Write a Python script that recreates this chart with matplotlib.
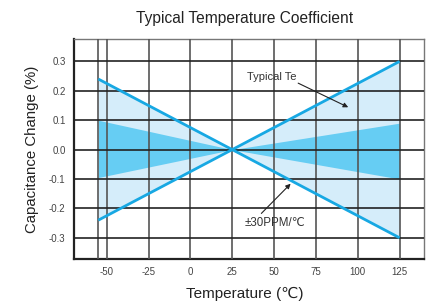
import matplotlib
matplotlib.use("Agg")
import matplotlib.pyplot as plt
import numpy as np

plt.rcParams['font.family'] = ['Liberation Sans', 'DejaVu Sans']

temps = [-55, 125]
ppm_upper = [0.24, 0.30]
ppm_lower = [-0.24, -0.30]
typ_upper = [0.10, 0.09]
typ_lower = [-0.095, -0.10]
ref_temp = 25
xticks = [-50, -25, 0, 25, 50, 75, 100, 125]
xgrid = [-55, -50, -25, 0, 25, 50, 75, 100, 125]
yticks = [-0.3, -0.2, -0.1, 0.0, 0.1, 0.2, 0.3]

fig = plt.figure(figsize=(4.39, 3.05), dpi=100)
ax = fig.add_axes([0.1686, 0.1508, 0.797, 0.7212])

light = '#d5edfa'
dark = '#66cdf3'
line_c = '#17a8e3'

x3 = [temps[0], ref_temp, temps[1]]
def tri(a, b):
    return [a, 0.0, b]

ax.fill_between(x3, tri(ppm_upper[0], ppm_upper[1]), tri(ppm_lower[0], ppm_lower[1]), color=light, lw=0, zorder=1)
ax.fill_between(x3, tri(typ_upper[0], typ_upper[1]), tri(typ_lower[0], typ_lower[1]), color=dark, lw=0, zorder=2)

for x in xgrid:
    ax.axvline(x, color='#555555', lw=1.2, zorder=3)
for y in yticks:
    ax.axhline(y, color='#222222', lw=1.2, zorder=3)

ax.plot([temps[0], temps[1]], [ppm_upper[0], ppm_lower[1]], color=line_c, lw=2.0, zorder=4, solid_capstyle='butt')
ax.plot([temps[0], temps[1]], [ppm_lower[0], ppm_upper[1]], color=line_c, lw=2.0, zorder=4, solid_capstyle='butt')

ax.set_xlim(-69.5, 139.5)
ax.set_ylim(-0.372, 0.376)
ax.set_xticks(xticks)
ax.set_xticklabels([str(v) for v in xticks])
ax.set_yticks(yticks)
ax.set_yticklabels(['%.1f' % v for v in yticks])
ax.tick_params(length=0, labelsize=7, colors='#444444', pad=6)

for s in ['left', 'bottom']:
    ax.spines[s].set_linewidth(1.6)
    ax.spines[s].set_color('#222222')
for s in ['top', 'right']:
    ax.spines[s].set_linewidth(1.0)
    ax.spines[s].set_color('#777777')

ax.text(48.6, 0.248, 'Typical Te', fontsize=8, color='#333333', ha='center', va='center', zorder=5)
ax.annotate('', xy=(94.3, 0.144), xytext=(64.4, 0.226),
            arrowprops=dict(arrowstyle='-|>', color='#222222', lw=0.8, mutation_scale=7, shrinkA=0, shrinkB=0), zorder=5)
ax.text(50.4, -0.25, '±30PPM/℃', fontsize=8.3, color='#333333', ha='center', va='center', zorder=5)
ax.annotate('', xy=(59.9, -0.116), xytext=(42.4, -0.217),
            arrowprops=dict(arrowstyle='-|>', color='#222222', lw=0.8, mutation_scale=7, shrinkA=0, shrinkB=0), zorder=5)

fig.text(0.558, 0.94, 'Typical Temperature Coefficient', ha='center', va='center', fontsize=11.2, color='#222222')
fig.text(0.558, 0.035, 'Temperature (℃)', ha='center', va='center', fontsize=11, color='#222222')
fig.text(0.072, 0.51, 'Capacitance Change (%)', ha='center', va='center', rotation=90, fontsize=10.8, color='#222222')

fig.savefig('out.png', dpi=100)
